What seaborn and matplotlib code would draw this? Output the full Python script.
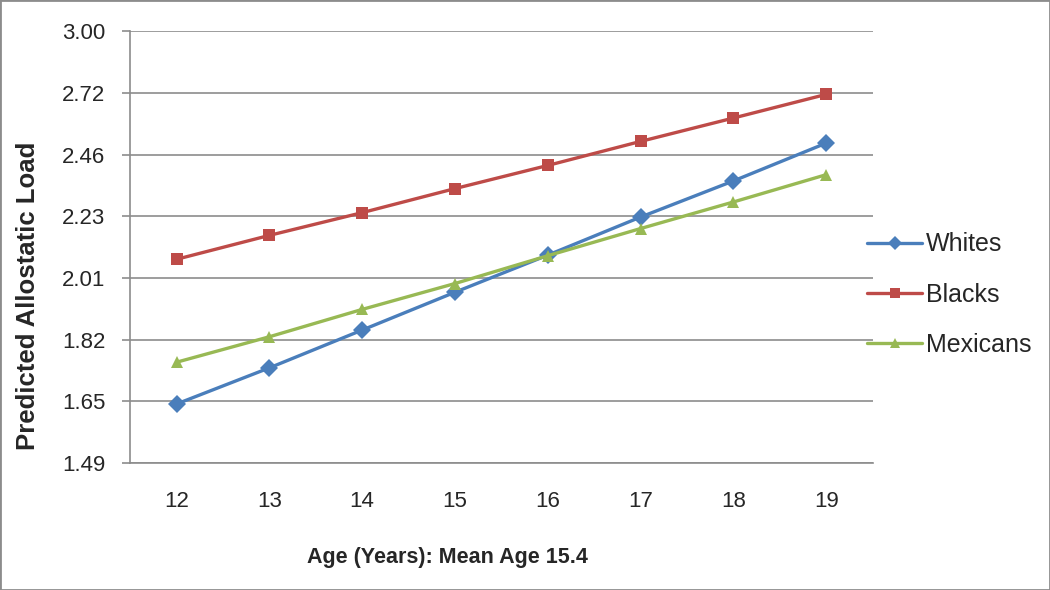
import numpy as np
import pandas as pd
import matplotlib
matplotlib.use("Agg")
import matplotlib.pyplot as plt
import seaborn as sns
from matplotlib.ticker import FixedLocator, NullLocator

# Datos
edades = [12, 13, 14, 15, 16, 17, 18, 19]
whites = [1.642, 1.741, 1.851, 1.968, 2.090, 2.223, 2.357, 2.506]
blacks = [2.076, 2.158, 2.239, 2.328, 2.417, 2.513, 2.610, 2.712]
mexicans = [1.757, 1.831, 1.914, 1.996, 2.088, 2.182, 2.278, 2.381]
grupos = ['Whites', 'Blacks', 'Mexicans']
y_ticks = [1.49, 1.65, 1.82, 2.01, 2.23, 2.46, 2.72, 3.00]

df = pd.DataFrame({
    'Edad': edades * 3,
    'Carga': whites + blacks + mexicans,
    'Grupo': [g for g in grupos for _ in edades],
})

sns.set_theme(style="white")
plt.rcParams['font.family'] = ['Liberation Sans', 'DejaVu Sans']

fig = plt.figure(figsize=(10.5, 5.9), dpi=100)
ax = fig.add_axes([0.124, 0.215, 0.707, 0.732])

colores = {'Whites': '#4A7EBB', 'Blacks': '#BE4B48', 'Mexicans': '#98B954'}
marcadores = {'Whites': 'D', 'Blacks': 's', 'Mexicans': '^'}
sns.lineplot(data=df, x='Edad', y='Carga', hue='Grupo', style='Grupo',
             palette=colores, markers=marcadores, dashes=False,
             linewidth=2.4, markersize=9, markeredgewidth=0, ax=ax)

# Eje y logaritmico (ticks en e^0.4 ... e^1.1)
ax.set_yscale('log')
ax.set_ylim(np.exp(0.4), np.exp(1.1))
ax.yaxis.set_major_locator(FixedLocator(np.exp(np.arange(0.4, 1.101, 0.1))))
ax.yaxis.set_minor_locator(NullLocator())
ax.set_yticklabels([f"{v:.2f}" for v in y_ticks])
ax.grid(axis='y', color='#8c8c8c', linewidth=1.2)

# Eje x categorico
ax.set_xlim(11.5, 19.5)
ax.set_xticks(edades)
ax.set_xticks(np.arange(11.5, 19.6, 1), minor=True)
ax.tick_params(axis='x', which='major', length=0, pad=20, labelsize=16)
ax.tick_params(axis='x', which='minor', length=9, width=1.2, color='#8c8c8c', direction='out')
ax.tick_params(axis='y', which='major', length=6, width=1.2, color='#8c8c8c',
               direction='out', left=True, labelsize=16, pad=12)

for lado in ['top', 'right']:
    ax.spines[lado].set_visible(False)
for lado in ['left', 'bottom']:
    ax.spines[lado].set_color('#8c8c8c')
    ax.spines[lado].set_linewidth(1.2)

ax.set_xlabel('Age (Years): Mean Age 15.4', fontsize=15.5, fontweight='bold')
ax.xaxis.set_label_coords(0.428, -0.193)
ax.set_ylabel('Predicted Allostatic Load', fontsize=18.5, fontweight='bold')
ax.yaxis.set_label_coords(-0.122, 0.387)

ax.legend(loc='center left', bbox_to_anchor=(0.993, 0.39), frameon=False,
          borderaxespad=0, borderpad=0,
          fontsize=18, handlelength=2.2, handletextpad=0.15, labelspacing=1.05,
          markerscale=0.75, title=None)

# Marco de la figura
fig.patches.append(plt.Rectangle((0, 0), 1, 1, transform=fig.transFigure,
                                 fill=False, edgecolor='#8c8c8c', linewidth=2))

plt.savefig('out.png', dpi=100)
